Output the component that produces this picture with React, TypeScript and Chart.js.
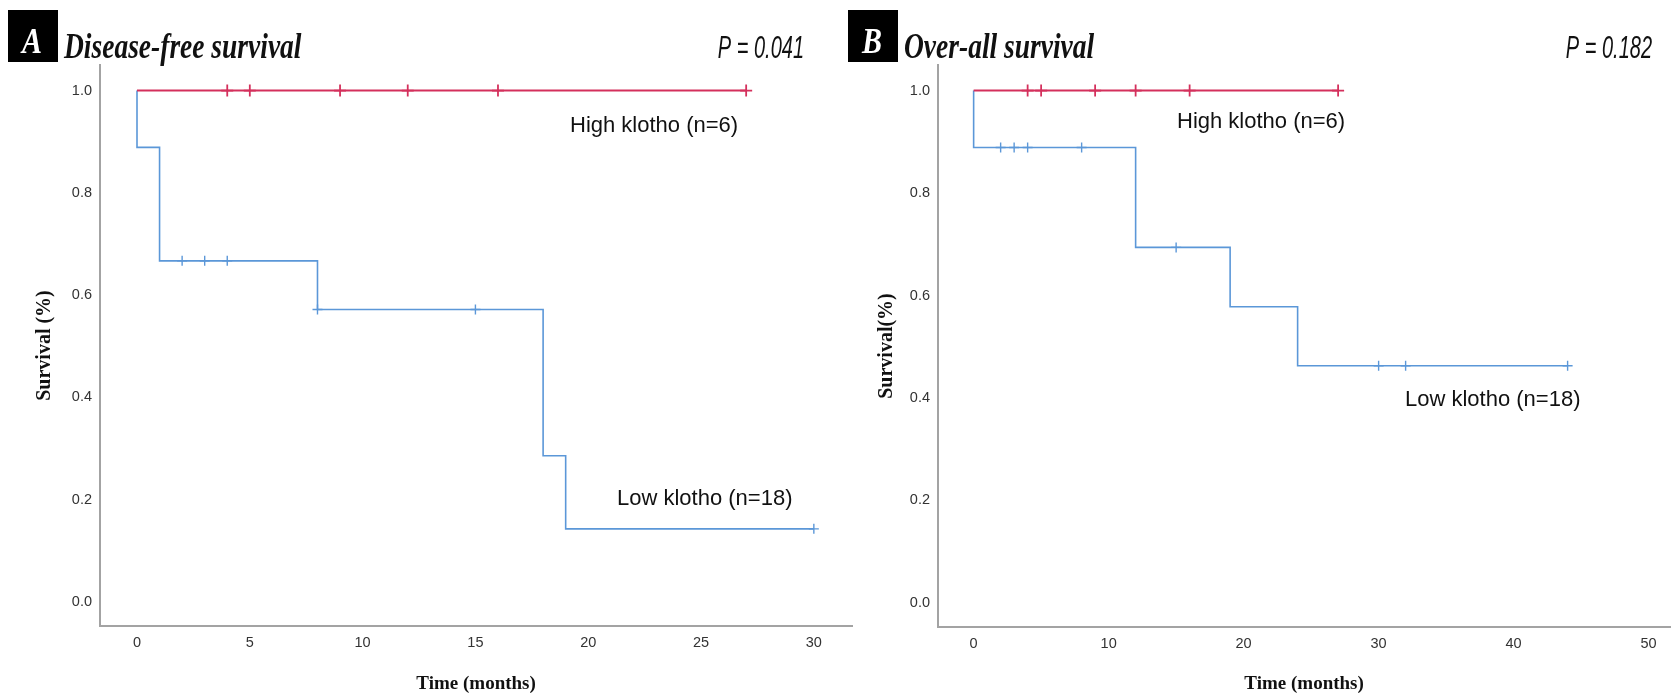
import React, { useEffect, useRef } from "react";
import { Chart, registerables } from "chart.js";

Chart.register(...registerables);

// ---------- data ----------
const HIGH_LABEL = "High klotho (n=6)";
const LOW_LABEL = "Low klotho (n=18)";
const Y_TICKS = [0, 0.2, 0.4, 0.6, 0.8, 1.0];

// Panel A: Disease-free survival
const A_X_TICKS = [0, 5, 10, 15, 20, 25, 30];
const A_HIGH_TIME = [0, 27];
const A_HIGH_SURV = [1, 1];
const A_HIGH_CENSOR = [4, 5, 9, 12, 16, 27];
const A_LOW_TIME = [0, 0, 1, 8, 18, 19, 30];
const A_LOW_SURV = [1, 0.889, 0.667, 0.572, 0.286, 0.143, 0.143];
const A_LOW_CENSOR = [2, 3, 4, 8, 15, 30];

// Panel B: Over-all survival
const B_X_TICKS = [0, 10, 20, 30, 40, 50];
const B_HIGH_TIME = [0, 27];
const B_HIGH_SURV = [1, 1];
const B_HIGH_CENSOR = [4, 5, 9, 12, 16, 27];
const B_LOW_TIME = [0, 0, 12, 19, 24, 44];
const B_LOW_SURV = [1, 0.889, 0.694, 0.578, 0.463, 0.463];
const B_LOW_CENSOR = [2, 3, 4, 8, 15, 30, 32, 44];

// ---------- styles ----------
const RED = "#d4305c";
const BLUE = "#5b97d8";
const AXIS = "#a3a3a3";
const SANS = "'Liberation Sans', Arial, sans-serif";
const SERIF = "'Liberation Serif', 'Times New Roman', serif";

function stepPoints(times: number[], surv: number[]) {
  return times.map((t, i) => ({ x: t, y: surv[i] }));
}
function survAt(times: number[], surv: number[], t: number) {
  let s = surv[0];
  for (let i = 0; i < times.length; i++) if (times[i] <= t) s = surv[i];
  return s;
}
function censorPoints(cens: number[], times: number[], surv: number[]) {
  return cens.map((t) => ({ x: t, y: survAt(times, surv, t) }));
}

type Panel = {
  letter: string;
  title: string;
  pText: string;
  yTitle: string;
  xTicks: number[];
  xMin: number;
  xMax: number;
  yAxisWidth: number;
  yTitlePad: number;
  rightPad: number;
  xAxisHeight: number;
  highTime: number[];
  highSurv: number[];
  highCensor: number[];
  lowTime: number[];
  lowSurv: number[];
  lowCensor: number[];
  pRight: number;
  highPos: [number, number];
  lowPos: [number, number];
};

const PANEL_A: Panel = {
  letter: "A",
  title: "Disease-free survival",
  pText: "P = 0.041",
  yTitle: "Survival (%)",
  xTicks: A_X_TICKS,
  xMin: -1.64,
  xMax: 31.7,
  yAxisWidth: 100,
  yTitlePad: 33,
  rightPad: 7,
  xAxisHeight: 71,
  highTime: A_HIGH_TIME,
  highSurv: A_HIGH_SURV,
  highCensor: A_HIGH_CENSOR,
  lowTime: A_LOW_TIME,
  lowSurv: A_LOW_SURV,
  lowCensor: A_LOW_CENSOR,
  pRight: 804,
  highPos: [570, 126],
  lowPos: [617, 499],
};

const PANEL_B: Panel = {
  letter: "B",
  title: "Over-all survival",
  pText: "P = 0.182",
  yTitle: "Survival(%)",
  xTicks: B_X_TICKS,
  xMin: -2.64,
  xMax: 51.6,
  yAxisWidth: 98,
  yTitlePad: 35,
  rightPad: 1,
  xAxisHeight: 70,
  highTime: B_HIGH_TIME,
  highSurv: B_HIGH_SURV,
  highCensor: B_HIGH_CENSOR,
  lowTime: B_LOW_TIME,
  lowSurv: B_LOW_SURV,
  lowCensor: B_LOW_CENSOR,
  pRight: 812,
  highPos: [337, 122],
  lowPos: [565, 400],
};

function annotPlugin(p: Panel) {
  return {
    id: "annot" + p.letter,
    afterDraw(chart: any) {
      const ctx = chart.ctx as CanvasRenderingContext2D;
      ctx.save();
      // letter box
      ctx.fillStyle = "#000";
      ctx.fillRect(8, 10, 50, 52);
      ctx.fillStyle = "#fff";
      ctx.font = `italic bold 30px ${SERIF}`;
      ctx.textAlign = "center";
      ctx.textBaseline = "alphabetic";
      ctx.save();
      ctx.translate(32, 53);
      ctx.scale(1, 1.2);
      ctx.fillText(p.letter, 0, 0);
      ctx.restore();
      // title
      ctx.fillStyle = "#111";
      ctx.textAlign = "left";
      ctx.font = `italic bold 27.5px ${SERIF}`;
      ctx.save();
      ctx.translate(64, 58);
      ctx.scale(1, 1.28);
      ctx.fillText(p.title, 0, 0);
      ctx.restore();
      // p value
      ctx.font = `italic 20px ${SANS}`;
      ctx.textAlign = "right";
      ctx.save();
      ctx.translate(p.pRight, 58);
      ctx.scale(1, 1.55);
      ctx.fillText(p.pText, 0, 0);
      ctx.restore();
      // group labels
      ctx.font = `22px ${SANS}`;
      ctx.textAlign = "left";
      ctx.textBaseline = "middle";
      ctx.fillText(HIGH_LABEL, p.highPos[0], p.highPos[1]);
      ctx.fillText(LOW_LABEL, p.lowPos[0], p.lowPos[1]);
      ctx.restore();
    },
  };
}

function makeConfig(p: Panel): any {
  return {
    type: "line",
    data: {
      datasets: [
        {
          label: "High klotho",
          data: stepPoints(p.highTime, p.highSurv),
          borderColor: RED,
          borderWidth: 2,
          stepped: true,
          pointRadius: 0,
          fill: false,
          order: 1,
        },
        {
          label: "High klotho censored",
          data: censorPoints(p.highCensor, p.highTime, p.highSurv),
          showLine: false,
          pointStyle: "cross",
          pointRadius: 6,
          pointBorderColor: RED,
          pointBorderWidth: 1.8,
          order: 0,
        },
        {
          label: "Low klotho",
          data: stepPoints(p.lowTime, p.lowSurv),
          borderColor: BLUE,
          borderWidth: 1.6,
          stepped: true,
          pointRadius: 0,
          fill: false,
          order: 3,
        },
        {
          label: "Low klotho censored",
          data: censorPoints(p.lowCensor, p.lowTime, p.lowSurv),
          showLine: false,
          pointStyle: "cross",
          pointRadius: 5,
          pointBorderColor: BLUE,
          pointBorderWidth: 1.4,
          order: 2,
        },
      ],
    },
    options: {
      animation: false,
      responsive: false,
      devicePixelRatio: 1,
      layout: { padding: { left: 0, right: p.rightPad, top: 65, bottom: 0 } },
      plugins: { legend: { display: false }, tooltip: { enabled: false } },
      scales: {
        x: {
          type: "linear",
          min: p.xMin,
          max: p.xMax,
          grid: { display: false, drawTicks: false },
          border: { color: AXIS, width: 2 },
          ticks: { padding: 8, color: "#333", font: { family: SANS, size: 14.5 } },
          afterBuildTicks: (s: any) => {
            s.ticks = p.xTicks.map((v) => ({ value: v }));
          },
          afterFit: (s: any) => {
            s.height = p.xAxisHeight;
          },
          title: {
            display: true,
            text: "Time (months)",
            color: "#111",
            font: { family: SERIF, weight: "bold", size: 19 },
            padding: { top: 0, bottom: 2 },
          },
        },
        y: {
          type: "linear",
          min: -0.047,
          max: 1.05,
          grid: { display: false, drawTicks: false },
          border: { color: AXIS, width: 2 },
          ticks: {
            padding: 8,
            color: "#333",
            font: { family: SANS, size: 14.5 },
            callback: (v: number) => Number(v).toFixed(1),
          },
          afterBuildTicks: (s: any) => {
            s.ticks = Y_TICKS.map((v) => ({ value: v }));
          },
          afterFit: (s: any) => {
            s.width = p.yAxisWidth;
          },
          title: {
            display: true,
            text: p.yTitle,
            color: "#111",
            font: { family: SERIF, weight: "bold", size: 20 },
            padding: { top: p.yTitlePad, bottom: 0 },
          },
        },
      },
    },
    plugins: [annotPlugin(p)],
  };
}

function KMPanel({ panel, left, width }: { panel: Panel; left: number; width: number }) {
  const ref = useRef<HTMLCanvasElement>(null);
  useEffect(() => {
    if (!ref.current) return;
    const chart = new Chart(ref.current, makeConfig(panel));
    return () => chart.destroy();
  }, [panel]);
  return (
    <canvas
      ref={ref}
      width={width}
      height={697}
      style={{ position: "absolute", left, top: 0, width, height: 697 }}
    />
  );
}

export default function App() {
  return (
    <div
      style={{
        position: "absolute",
        left: 0,
        top: 0,
        width: 1678,
        height: 697,
        background: "#fff",
        overflow: "hidden",
      }}
    >
      <KMPanel panel={PANEL_A} left={0} width={860} />
      <KMPanel panel={PANEL_B} left={840} width={838} />
    </div>
  );
}
